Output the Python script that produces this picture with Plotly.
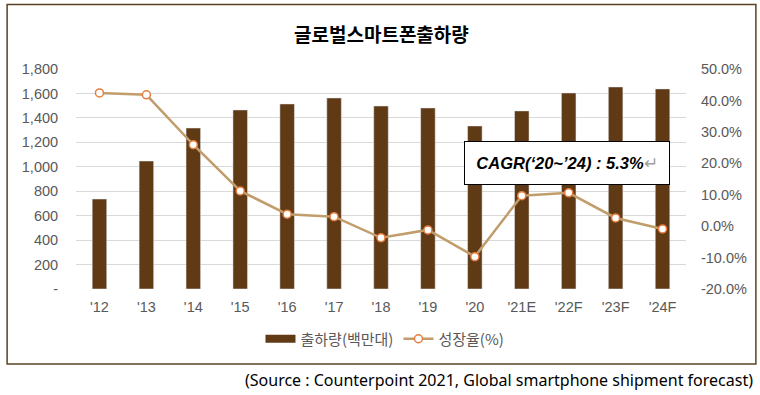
import plotly.graph_objects as go

categories = ["'12", "'13", "'14", "'15", "'16", "'17", "'18", "'19", "'20", "'21E", "'22F", "'23F", "'24F"]
shipments = [736, 1047, 1317, 1465, 1514, 1563, 1497, 1481, 1334, 1457, 1604, 1653, 1637]
growth = [42.4, 41.8, 25.9, 11.2, 3.8, 3.0, -3.7, -1.2, -9.7, 9.7, 10.6, 2.6, -0.9]
left_ticks = [0, 200, 400, 600, 800, 1000, 1200, 1400, 1600, 1800]
left_labels = ["-", "200", "400", "600", "800", "1,000", "1,200", "1,400", "1,600", "1,800"]
right_ticks = [-20, -10, 0, 10, 20, 30, 40, 50]
right_labels = ["-20.0%", "-10.0%", "0.0%", "10.0%", "20.0%", "30.0%", "40.0%", "50.0%"]

W, H = 760, 395
L, R, T, B = 75.5, 686.5, 69, 289
pw, ph = R - L, B - T

def px(x):
    return (x - L) / pw

def py(y):
    return (B - y) / ph

BROWN = "#603a15"
TAN = "#c19d6c"
ORANGE = "#e77c3c"
GRAY = "#595959"
FONT = "Liberation Sans, Noto Sans CJK KR, sans-serif"
KFONT = "Noto Sans CJK KR, sans-serif"
TS = 14.5

fig = go.Figure()
fig.add_trace(go.Bar(x=categories, y=shipments, marker_color=BROWN, width=0.31,
                     showlegend=False, name="출하량(백만대)", yaxis="y"))
fig.add_trace(go.Scatter(x=[None], y=[None], mode="lines", line=dict(color=BROWN, width=8),
                         name="출하량(백만대)", yaxis="y"))
fig.add_trace(go.Scatter(x=categories, y=growth, mode="lines+markers", name="성장율(%)",
                         line=dict(color=TAN, width=2.5),
                         marker=dict(size=8, color="white", line=dict(color=ORANGE, width=1.5)),
                         yaxis="y2"))

fig.update_layout(
    width=W, height=H,
    margin=dict(l=L, r=W - R, t=T, b=H - B, pad=0, autoexpand=False),
    paper_bgcolor="white", plot_bgcolor="white",
    font=dict(family=FONT, size=TS, color=GRAY),
    xaxis=dict(range=[-0.5, len(categories) - 0.5], showgrid=False, showline=False, zeroline=False,
               ticks="outside", ticklen=5, tickcolor="rgba(0,0,0,0)",
               tickfont=dict(size=TS, color=GRAY, family=FONT)),
    yaxis=dict(range=[0, 1800], tickvals=left_ticks, ticktext=left_labels, showgrid=True,
               gridcolor="#d9d9d9", gridwidth=1, zeroline=False, showline=False,
               ticks="outside", ticklen=14, tickcolor="rgba(0,0,0,0)",
               tickfont=dict(size=TS, color=GRAY, family=FONT)),
    yaxis2=dict(range=[-20, 50], overlaying="y", side="right", tickvals=right_ticks,
                ticktext=right_labels, showgrid=False, zeroline=False, showline=False,
                ticks="outside", ticklen=11, tickcolor="rgba(0,0,0,0)",
                tickfont=dict(size=TS, color=GRAY, family=FONT)),
    legend=dict(orientation="h", x=px(385), xanchor="center", y=py(339), yanchor="middle",
                font=dict(size=15, color=GRAY, family=KFONT), itemwidth=30,
                bgcolor="rgba(0,0,0,0)", traceorder="normal"),
    showlegend=True,
    bargap=0.69,
)

fig.add_shape(type="rect", xref="paper", yref="paper",
              x0=px(6.5), x1=px(756.5), y0=py(4.5), y1=py(364),
              line=dict(color="#5a4225", width=1.5), fillcolor="rgba(0,0,0,0)", layer="below")

fig.add_annotation(xref="paper", yref="paper", x=px(382), y=py(33), text="<b>글로벌스마트폰출하량</b>",
                   showarrow=False, xanchor="center", yanchor="middle",
                   font=dict(size=19, color="black", family=KFONT))

fig.add_annotation(xref="paper", yref="paper", x=px(567), y=py(163),
                   text="<b><i>CAGR(‘20~’24) : 5.3%</i></b><span style='color:#a0a0a0'>↵</span>",
                   showarrow=False, xanchor="center", yanchor="middle",
                   width=202, height=40, bgcolor="white", bordercolor="black", borderwidth=1,
                   font=dict(size=16.5, color="black", family=FONT))

fig.add_annotation(xref="paper", yref="paper", x=px(756), y=py(380),
                   text="(Source : Counterpoint 2021, Global smartphone shipment forecast)",
                   showarrow=False, xanchor="right", yanchor="middle",
                   font=dict(size=16, color="black", family="Noto Sans, sans-serif"))

fig.write_html("out.html", config={"displayModeBar": False},
               post_script="document.body.style.margin='0';document.body.style.overflow='hidden';")
